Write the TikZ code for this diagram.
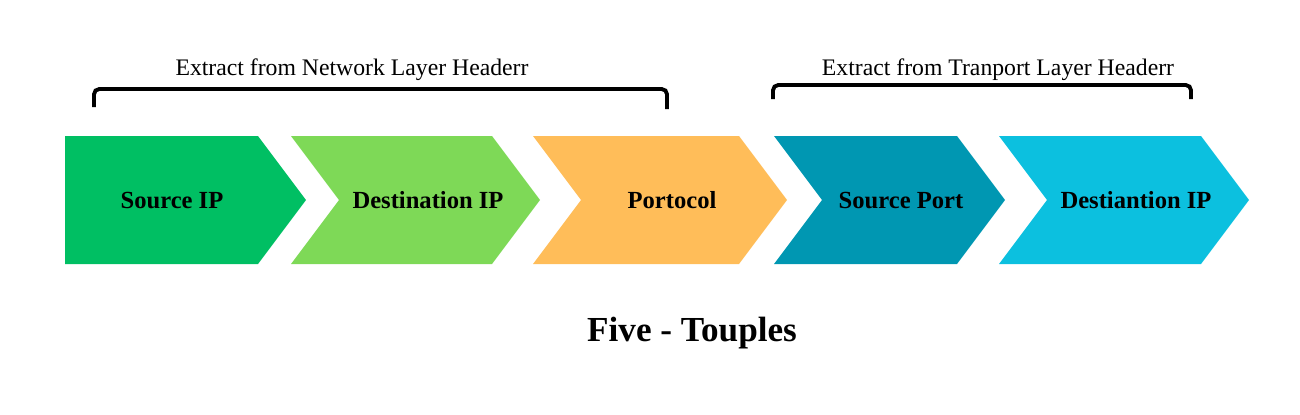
\documentclass[tikz,border=0pt]{standalone}
\usepackage{fontspec}
\setmainfont{Liberation Serif}
\usepackage{tikz}
\usetikzlibrary{positioning}
\definecolor{srcgreen}{HTML}{00BF63}
\definecolor{dstgreen}{HTML}{7ED957}
\definecolor{protorange}{HTML}{FFBD59}
\definecolor{portteal}{HTML}{0097B2}
\definecolor{portcyan}{HTML}{0CC0DF}
\tikzset{%
  font=\small,
  lbl/.style={inner sep=0pt,text=black,font=\fontsize{14}{16}\selectfont\bfseries},
  hdr/.style={inner sep=0pt,font=\fontsize{13.5}{16}\selectfont},
  brack/.style={draw,line width=2.2pt,rounded corners=3pt},
  ttl/.style={inner sep=0pt,font=\fontsize{20}{24}\selectfont\bfseries}
}

\begin{document}
\begin{tikzpicture}[x=0.02cm,y=-0.02cm]
	\useasboundingbox (0,0) rectangle (1300,414);
	% the five chevrons
	\foreach \l/\r/\d/\col/\nm/\txt/\tx in {%
		65/258/0/srcgreen/srcip/Source IP/172,
		291/492/48/dstgreen/dstip/Destination IP/428,
		533/739/48/protorange/proto/Portocol/672,
		774/957/48/portteal/srcport/Source Port/901,
		999/1201/48/portcyan/dstport/Destiantion IP/1136}
	{
		\fill[\col] (\l,136) -- (\r,136) -- ++(48,64) -- (\r,264) -- (\l,264) -- ++(\d,-64) -- cycle;
		\node[lbl] (\nm) at (\tx,200) {\txt};
	}
	% header brackets
	\draw[brack] (94,107) -- (94,89) -- (667,89) -- (667,109);
	\node[hdr] (nethdr) at (352,70) {Extract from Network Layer Headerr};
	\draw[brack] (773,99) -- (773,85) -- (1191,85) -- (1191,99);
	\node[hdr] (trphdr) at (998,70) {Extract from Tranport Layer Headerr};
	\node[ttl] (title) at (692,333) {Five - Touples};
\end{tikzpicture}
\end{document}
